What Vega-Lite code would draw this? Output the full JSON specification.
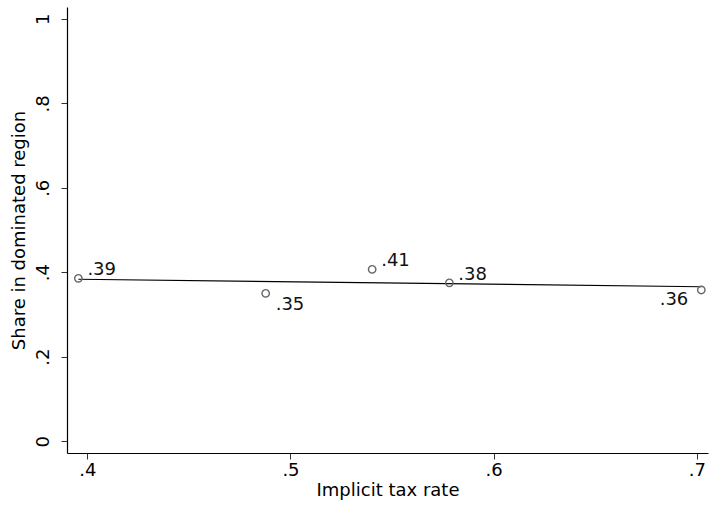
{
  "$schema": "https://vega.github.io/schema/vega-lite/v6.json",
  "width": 641,
  "height": 446,
  "autosize": {"type": "none"},
  "padding": {"left": 67, "top": 7, "right": 1, "bottom": 53},
  "background": "white",
  "config": {
    "view": {"stroke": null},
    "font": "DejaVu Sans",
    "axis": {
      "grid": false,
      "domainColor": "#000000",
      "domainWidth": 1.2,
      "tickColor": "#333333",
      "tickSize": 6,
      "labelFont": "DejaVu Sans",
      "labelFontSize": 18,
      "labelColor": "#000000",
      "titleFont": "DejaVu Sans",
      "titleFontSize": 18,
      "titleFontWeight": "normal",
      "titleColor": "#000000"
    }
  },
  "data": {
    "values": [
      {"tax": 0.3956, "share": 0.3855, "label": ".39"},
      {"tax": 0.4878, "share": 0.350, "label": ".35"},
      {"tax": 0.5402, "share": 0.4069, "label": ".41"},
      {"tax": 0.5782, "share": 0.375, "label": ".38"},
      {"tax": 0.7022, "share": 0.358, "label": ".36"}
    ]
  },
  "encoding": {
    "x": {
      "field": "tax", "type": "quantitative",
      "scale": {"domain": [0.39, 0.7055], "nice": false, "zero": false},
      "axis": {
        "title": "Implicit tax rate",
        "values": [0.4, 0.5, 0.6, 0.7],
        "labelExpr": "replace(format(datum.value, '~g'), '0.', '.')",
        "labelPadding": 2,
        "titlePadding": 2
      }
    },
    "y": {
      "field": "share", "type": "quantitative",
      "scale": {"domain": [-0.028, 1.028], "nice": false, "zero": false},
      "axis": {
        "title": "Share in dominated region",
        "values": [0, 0.2, 0.4, 0.6, 0.8, 1],
        "labelExpr": "replace(format(datum.value, '~g'), '0.', '.')",
        "labelAngle": -90,
        "labelAlign": "center",
        "labelBaseline": "bottom",
        "labelPadding": 9,
        "titlePadding": 6
      }
    }
  },
  "layer": [
    {
      "transform": [{"regression": "share", "on": "tax"}],
      "mark": {"type": "line", "color": "#000000", "strokeWidth": 1.1},
      "encoding": {}
    },
    {
      "mark": {"type": "point", "shape": "circle", "filled": false, "color": "#666666", "strokeWidth": 1.4, "size": 55, "opacity": 1}
    },
    {
      "transform": [{"filter": {"field": "label", "oneOf": [".39", ".41", ".38"]}}],
      "mark": {"type": "text", "align": "left", "baseline": "alphabetic", "dx": 9, "dy": -3, "fontSize": 18, "color": "#111111"},
      "encoding": {"text": {"field": "label"}}
    },
    {
      "transform": [{"filter": {"field": "label", "equal": ".35"}}],
      "mark": {"type": "text", "align": "left", "baseline": "alphabetic", "dx": 10, "dy": 17, "fontSize": 18, "color": "#111111"},
      "encoding": {"text": {"field": "label"}}
    },
    {
      "transform": [{"filter": {"field": "label", "equal": ".36"}}],
      "mark": {"type": "text", "align": "right", "baseline": "alphabetic", "dx": -13, "dy": 15, "fontSize": 18, "color": "#111111"},
      "encoding": {"text": {"field": "label"}}
    }
  ]
}
